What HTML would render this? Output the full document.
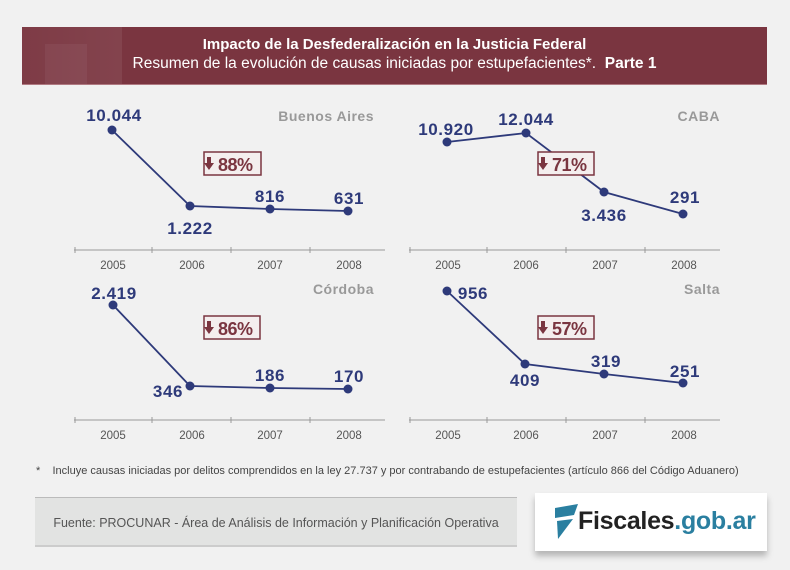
<!DOCTYPE html>
<html><head><meta charset="utf-8"><style>
body{margin:0;width:790px;height:570px;background:#f1f1f1;overflow:hidden;font-family:"Liberation Sans",sans-serif;position:relative}
.hdr{position:absolute;left:22px;top:27px;width:745px;height:57px;background:#7a3540;color:#fff;text-align:center;border-bottom:1px solid #b07a82}
.hdr .t{position:absolute;left:0;right:0;top:9px;font-size:15px;font-weight:bold}
.hdr .s{position:absolute;left:0;right:0;top:28px;font-size:15.5px}
.foot{position:absolute;left:36px;top:465px;font-size:11px;color:#444}
.src{position:absolute;left:35px;top:497px;width:482px;height:50px;background:#e2e3e2;border-top:1px solid #bbb;border-bottom:2px solid #ccc;font-size:12.5px;color:#555;line-height:50px;text-align:center;box-sizing:border-box}
.logo{position:absolute;left:535px;top:493px;width:232px;height:58px;background:#fff;box-shadow:0 5px 6px rgba(0,0,0,.25)}
</style></head><body>
<div class="hdr">
<div style="position:absolute;left:0;top:0;width:100px;height:57px;background:linear-gradient(90deg,rgba(255,255,255,.03),rgba(255,255,255,.07))"></div>
<div style="position:absolute;left:23px;top:17px;width:42px;height:40px;background:rgba(255,255,255,.05)"></div>
<div class="t">Impacto de la Desfederalización en la Justicia Federal</div>
<div class="s">Resumen de la evolución de causas iniciadas por estupefacientes*.&nbsp; <b>Parte 1</b></div>
</div>
<svg width="790" height="570" style="position:absolute;left:0;top:0" font-family="Liberation Sans, sans-serif">
<g stroke="#999" stroke-width="1">
<line x1="74" y1="250" x2="385" y2="250"/><line x1="409" y1="250" x2="720" y2="250"/>
<line x1="74" y1="420" x2="385" y2="420"/><line x1="409" y1="420" x2="720" y2="420"/>
<g id="tk"><line x1="75" y1="247" x2="75" y2="253"/><line x1="152" y1="247" x2="152" y2="253"/><line x1="231" y1="247" x2="231" y2="253"/><line x1="310" y1="247" x2="310" y2="253"/></g>
<use href="#tk" x="335"/><use href="#tk" y="170"/><use href="#tk" x="335" y="170"/>
</g>
<g font-size="11.5" fill="#555" text-anchor="middle">
<text x="113" y="269">2005</text><text x="192" y="269">2006</text><text x="270" y="269">2007</text><text x="349" y="269">2008</text>
<text x="448" y="269">2005</text><text x="526" y="269">2006</text><text x="605" y="269">2007</text><text x="684" y="269">2008</text>
<text x="113" y="439">2005</text><text x="192" y="439">2006</text><text x="270" y="439">2007</text><text x="349" y="439">2008</text>
<text x="448" y="439">2005</text><text x="526" y="439">2006</text><text x="605" y="439">2007</text><text x="684" y="439">2008</text>
</g>
<g font-size="14" font-weight="bold" fill="#999" text-anchor="end" letter-spacing="0.5">
<text x="374" y="121">Buenos Aires</text><text x="720" y="121">CABA</text>
<text x="374" y="294">Córdoba</text><text x="720" y="294">Salta</text>
</g>
<g stroke="#2e3a7a" stroke-width="1.8" fill="none">
<polyline points="112,130 190,206 270,209 348,211"/>
<polyline points="447,142 526,133 604,192 683,214"/>
<polyline points="113,305 190,386 270,388 348,389"/>
<polyline points="447,291 525,364 604,374 683,383"/>
</g>
<g fill="#2e3a7a">
<circle cx="112" cy="130" r="4.5"/><circle cx="190" cy="206" r="4.5"/><circle cx="270" cy="209" r="4.5"/><circle cx="348" cy="211" r="4.5"/>
<circle cx="447" cy="142" r="4.5"/><circle cx="526" cy="133" r="4.5"/><circle cx="604" cy="192" r="4.5"/><circle cx="683" cy="214" r="4.5"/>
<circle cx="113" cy="305" r="4.5"/><circle cx="190" cy="386" r="4.5"/><circle cx="270" cy="388" r="4.5"/><circle cx="348" cy="389" r="4.5"/>
<circle cx="447" cy="291" r="4.5"/><circle cx="525" cy="364" r="4.5"/><circle cx="604" cy="374" r="4.5"/><circle cx="683" cy="383" r="4.5"/>
</g>
<g font-size="17" font-weight="bold" fill="#2e3a7a" text-anchor="middle" letter-spacing="0.6">
<text x="114" y="121">10.044</text><text x="190" y="234">1.222</text><text x="270" y="202">816</text><text x="349" y="204">631</text>
<text x="446" y="135">10.920</text><text x="526" y="125">12.044</text><text x="604" y="221">3.436</text><text x="685" y="203">291</text>
<text x="114" y="299">2.419</text><text x="168" y="397">346</text><text x="270" y="381">186</text><text x="349" y="382">170</text>
<text x="473" y="299">956</text><text x="525" y="386">409</text><text x="606" y="367">319</text><text x="685" y="377">251</text>
</g>
<g font-size="18" font-weight="bold" fill="#7a3540">
<g><rect x="204" y="152" width="57" height="23" fill="#f4eeee" stroke="#7a3540" stroke-width="1.5"/><text x="218" y="171" letter-spacing="-0.5">88%</text><path d="M207 157h4v6h3l-5 7l-5-7h3z"/></g>
<g><rect x="538" y="152" width="56" height="23" fill="#f4eeee" stroke="#7a3540" stroke-width="1.5"/><text x="552" y="171" letter-spacing="-0.5">71%</text><path d="M541 157h4v6h3l-5 7l-5-7h3z"/></g>
<g><rect x="204" y="316" width="56" height="23" fill="#f4eeee" stroke="#7a3540" stroke-width="1.5"/><text x="218" y="335" letter-spacing="-0.5">86%</text><path d="M207 321h4v6h3l-5 7l-5-7h3z"/></g>
<g><rect x="538" y="316" width="56" height="23" fill="#f4eeee" stroke="#7a3540" stroke-width="1.5"/><text x="552" y="335" letter-spacing="-0.5">57%</text><path d="M541 321h4v6h3l-5 7l-5-7h3z"/></g>
</g>
</svg>
<div class="foot">*&nbsp;&nbsp;&nbsp; Incluye causas iniciadas por delitos comprendidos en la ley 27.737 y por contrabando de estupefacientes (artículo 866 del Código Aduanero)</div>
<div class="src">Fuente: PROCUNAR - Área de Análisis de Información y Planificación Operativa</div>
<div class="logo">
<svg width="40" height="58" style="position:absolute;left:10px;top:0"><polygon points="10,15 33,11 29,22 10,25" fill="#2a7fa0"/><polygon points="12,28 28,26 13,46" fill="#2a7fa0"/></svg>
<div style="position:absolute;left:43px;top:14px;font-size:25px;font-weight:bold;color:#222;letter-spacing:-0.3px">Fiscales<span style="color:#2a7fa0">.gob.ar</span></div>
</div>
</body></html>
